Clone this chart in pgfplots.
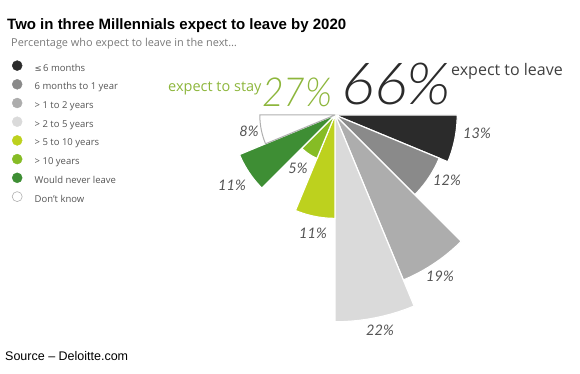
\documentclass[border=0pt]{standalone}
\usepackage{pgfplots}
\pgfplotsset{compat=1.18}
\usepackage{fontspec}
\setmainfont{Open Sans}
\newfontfamily\arialfont{Liberation Sans}
\newfontfamily\latofont{Lato}
\newfontfamily\lightit{Lato Light Italic}
\definecolor{c1}{HTML}{2B2B2B}
\definecolor{c2}{HTML}{8A8A8A}
\definecolor{c3}{HTML}{ADADAD}
\definecolor{c4}{HTML}{DADADA}
\definecolor{c5}{HTML}{BDD11E}
\definecolor{c6}{HTML}{86BC25}
\definecolor{c7}{HTML}{3E8E34}
\definecolor{c8}{HTML}{FFFFFF}
\definecolor{outl}{HTML}{B0B0B0}
\definecolor{txtgray}{HTML}{555555}
\definecolor{stay}{HTML}{8DB63C}
\begin{document}
\begin{tikzpicture}[x=1pt,y=1pt]
\path[use as bounding box] (0,0) rectangle (580,374);
\begin{axis}[
  at={(0,0)}, anchor=south west,
  scale only axis, width=580pt, height=374pt,
  xmin=-35.638, xmax=26.064, ymin=-27.553, ymax=12.234,
  hide axis, clip=false,
  legend cell align=left,
  legend style={draw=none, fill=none, at={(axis description cs:0.0,0.839)}, anchor=north west,
    inner sep=0pt, row sep=5pt, font=\fontsize{9.5}{11}\selectfont\color{txtgray},
    nodes={inner sep=1pt, text height=7pt, text depth=2pt}},
  legend image code/.code={\path[draw=none,fill=none] (0pt,0pt) -- (33.5pt,0pt); \filldraw[#1] (17pt,3pt) circle (5pt);},
]
\addplot[fill=c1, draw=white, line width=1.2pt, data cs=polar, forget plot] coordinates {(0,0) (0,13) (-2.25,13) (-4.5,13) (-6.75,13) (-9,13) (-11.25,13) (-13.5,13) (-15.75,13) (-18,13) (-20.25,13) (-22.5,13) (0,0)};
\addplot[fill=c2, draw=white, line width=1.2pt, data cs=polar, forget plot] coordinates {(0,0) (-22.5,12) (-24.75,12) (-27,12) (-29.25,12) (-31.5,12) (-33.75,12) (-36,12) (-38.25,12) (-40.5,12) (-42.75,12) (-45,12) (0,0)};
\addplot[fill=c3, draw=white, line width=1.2pt, data cs=polar, forget plot] coordinates {(0,0) (-45,19) (-47.25,19) (-49.5,19) (-51.75,19) (-54,19) (-56.25,19) (-58.5,19) (-60.75,19) (-63,19) (-65.25,19) (-67.5,19) (0,0)};
\addplot[fill=c4, draw=white, line width=1.2pt, data cs=polar, forget plot] coordinates {(0,0) (-67.5,22) (-69.75,22) (-72,22) (-74.25,22) (-76.5,22) (-78.75,22) (-81,22) (-83.25,22) (-85.5,22) (-87.75,22) (-90,22) (0,0)};
\addplot[fill=c5, draw=white, line width=1.2pt, data cs=polar, forget plot] coordinates {(0,0) (-90,11) (-92.25,11) (-94.5,11) (-96.75,11) (-99,11) (-101.25,11) (-103.5,11) (-105.75,11) (-108,11) (-110.25,11) (-112.5,11) (0,0)};
\addplot[fill=c6, draw=white, line width=1.2pt, data cs=polar, forget plot] coordinates {(0,0) (-112.5,5) (-114.75,5) (-117,5) (-119.25,5) (-121.5,5) (-123.75,5) (-126,5) (-128.25,5) (-130.5,5) (-132.75,5) (-135,5) (0,0)};
\addplot[fill=c7, draw=white, line width=1.2pt, data cs=polar, forget plot] coordinates {(0,0) (-135,11) (-137.25,11) (-139.5,11) (-141.75,11) (-144,11) (-146.25,11) (-148.5,11) (-150.75,11) (-153,11) (-155.25,11) (-157.5,11) (0,0)};
\addplot[fill=c8, draw=outl, line width=1pt, data cs=polar, forget plot] coordinates {(0,0) (-157.5,8) (-159.75,8) (-162,8) (-164.25,8) (-166.5,8) (-168.75,8) (-171,8) (-173.25,8) (-175.5,8) (-177.75,8) (-180,8) (0,0)};
\addlegendimage{fill=c1, draw=c1}
\addlegendentry{\fontspec{DejaVu Sans}\fontsize{8.5}{11}\selectfont≤\,\fontspec{Open Sans}\fontsize{9.5}{11}\selectfont 6 months}
\addlegendimage{fill=c2, draw=c2}
\addlegendentry{6 months to 1 year}
\addlegendimage{fill=c3, draw=c3}
\addlegendentry{> 1 to 2 years}
\addlegendimage{fill=c4, draw=c4}
\addlegendentry{> 2 to 5 years}
\addlegendimage{fill=c5, draw=c5}
\addlegendentry{> 5 to 10 years}
\addlegendimage{fill=c6, draw=c6}
\addlegendentry{> 10 years}
\addlegendimage{fill=c7, draw=c7}
\addlegendentry{Would never leave}
\addlegendimage{fill=white, draw=outl, line width=0.6pt}
\addlegendentry{Don't know}
\end{axis}
% titles
\node[anchor=base west, inner sep=0pt, font=\arialfont\bfseries\fontsize{15}{17}\selectfont] at (7,344) {Two in three Millennials expect to leave by 2020};
\node[anchor=base west, inner sep=0pt, font=\fontsize{10.9}{12}\selectfont, text=gray!95!black] at (11,327.3) {Percentage who expect to leave in the next\ldots};
\node[anchor=west, inner sep=0pt, font=\arialfont\fontsize{12.5}{14}\selectfont] at (5,18.3) {Source – Deloitte.com};
% big numbers
\node[anchor=base west, inner sep=0pt, xscale=1.06, font=\lightit\fontsize{58}{60}\selectfont, text=c1] at (341,269) {66\%};
\node[anchor=base west, inner sep=0pt, xscale=0.93, font=\lightit\fontsize{40}{42}\selectfont, text=stay] at (262,267) {27\%};
\node[anchor=base west, inner sep=0pt, font=\fontsize{16}{18}\selectfont, text=c1!90] at (451,298) {expect to leave};
\node[anchor=base west, inner sep=0pt, font=\fontsize{14.5}{17}\selectfont, text=stay] at (168,282) {expect to stay};
% value labels
\begin{scope}[every node/.style={inner sep=0pt, font=\latofont\itshape\fontsize{14.5}{16}\selectfont, text=txtgray}]
\node at (477,241) {13\%};
\node at (447,194) {12\%};
\node at (440,98) {19\%};
\node at (380,44) {22\%};
\node at (313,141) {11\%};
\node at (298,206) {5\%};
\node at (232,189) {11\%};
\node at (249,243) {8\%};
\end{scope}
\end{tikzpicture}
\end{document}
